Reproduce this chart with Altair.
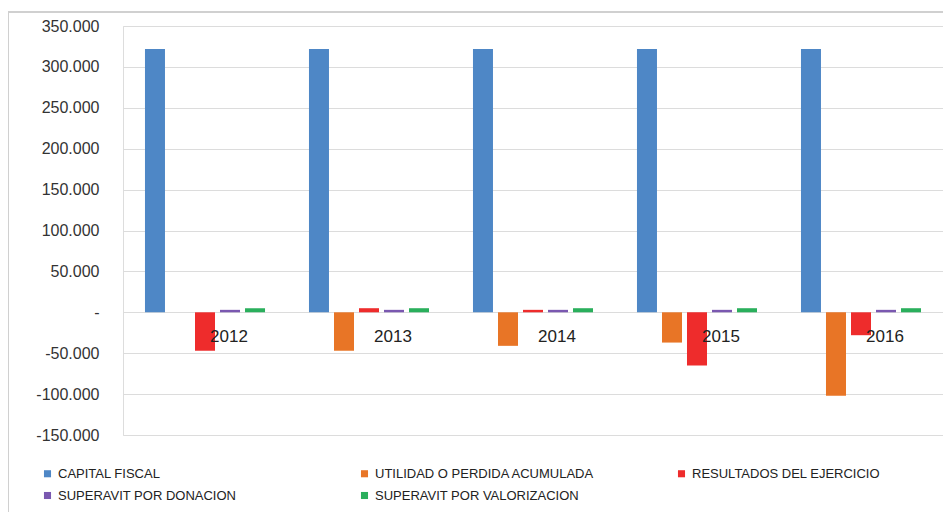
import altair as alt
import pandas as pd

years = ["2012", "2013", "2014", "2015", "2016"]
series = [
    "CAPITAL FISCAL",
    "UTILIDAD O PERDIDA ACUMULADA",
    "RESULTADOS DEL EJERCICIO",
    "SUPERAVIT POR DONACION",
    "SUPERAVIT POR VALORIZACION",
]
colors = ["#4e87c6", "#e87526", "#ee2c2c", "#7a58b0", "#2aaf5c"]

capital_fiscal = [322000, 322000, 322000, 322000, 322000]
utilidad_perdida = [0, -47000, -41000, -37000, -102000]
resultados = [-47000, 5000, 3000, -65000, -28000]
superavit_donacion = [3000, 3000, 3000, 3000, 3000]
superavit_valorizacion = [5000, 5000, 5000, 5000, 5000]

values = [capital_fiscal, utilidad_perdida, resultados, superavit_donacion, superavit_valorizacion]
rows = []
for s, vals in zip(series, values):
    for y, v in zip(years, vals):
        rows.append({"year": y, "series": s, "value": v})
df = pd.DataFrame(rows)
labels_df = pd.DataFrame({"year": years})

FONT = "Liberation Sans"

x_enc = alt.X("year:N", sort=years, axis=None,
              scale=alt.Scale(paddingInner=0.268, paddingOuter=0.134))

bars = alt.Chart(df).mark_bar().encode(
    x=x_enc,
    xOffset=alt.XOffset("series:N", sort=series,
                        scale=alt.Scale(paddingInner=0.2, paddingOuter=0)),
    y=alt.Y("value:Q", title=None,
            scale=alt.Scale(domain=[-150000, 350000], nice=False),
            axis=alt.Axis(values=list(range(-150000, 350001, 50000)),
                          labelExpr="datum.value == 0 ? '-' : (datum.value < 0 ? '-' : '') + format(abs(datum.value)/1000, 'd') + '.000'",
                          domain=False, ticks=False, labelPadding=24,
                          labelFont=FONT, labelFontSize=16, labelColor="#333333",
                          grid=True, gridColor="#dcdcdc", gridWidth=1.2)),
    color=alt.Color("series:N", sort=series,
                    scale=alt.Scale(domain=series, range=colors),
                    legend=alt.Legend(title=None, orient="none", legendX=-82, legendY=441,
                                      columns=3, direction="horizontal", gridAlign="all",
                                      columnPadding=80, rowPadding=8,
                                      symbolType="square", symbolSize=50,
                                      symbolStrokeWidth=0, labelOffset=4,
                                      labelFont=FONT, labelFontSize=13, labelColor="#222222",
                                      labelLimit=400)),
)

year_labels = alt.Chart(labels_df).mark_text(
    font=FONT, fontSize=17, color="#222222", dx=24, dy=25, align="center"
).encode(
    x=x_enc,
    y=alt.datum(0),
    text="year:N",
)

frame = alt.Chart(labels_df).mark_rule(color="#d0d0d0", strokeWidth=2).encode(
    x=alt.value(-115), x2=alt.value(830), y=alt.value(-14)
)
frame_left = alt.Chart(labels_df).mark_rule(color="#d0d0d0", strokeWidth=2).encode(
    x=alt.value(-115), y=alt.value(-14), y2=alt.value(495)
)

chart = alt.layer(frame, frame_left, bars, year_labels).properties(
    width=820, height=409,
    autosize=alt.AutoSizeParams(type="none"),
    padding={"left": 115, "top": 18, "right": 0, "bottom": 77},
).configure_view(stroke=None).configure(background="white")

chart.save("out.html", embed_options={"renderer": "svg", "actions": False})
